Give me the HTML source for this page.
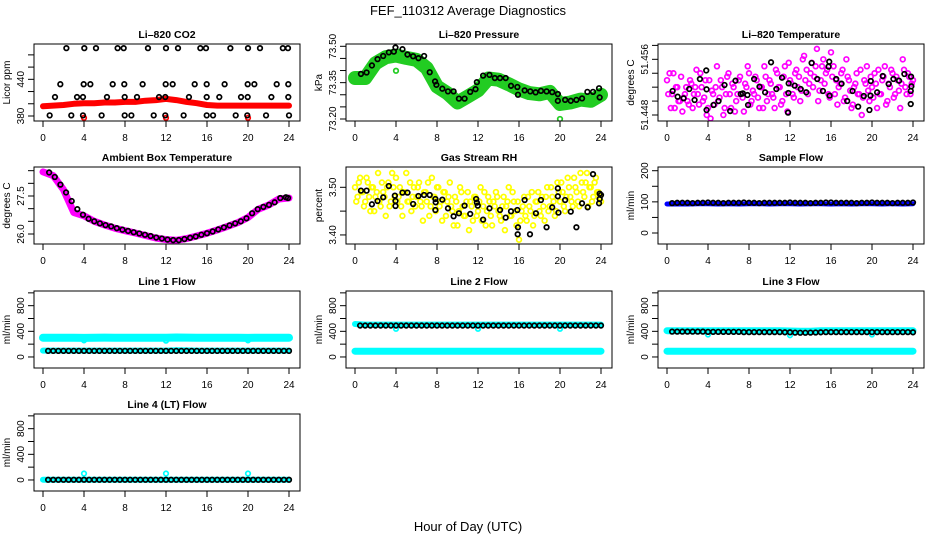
<!DOCTYPE html>
<html><head><meta charset="utf-8"><style>
html,body{margin:0;padding:0;background:#fff;}
svg{display:block;font-family:"Liberation Sans",Arial,sans-serif;}
</style></head><body>
<svg id="chart" width="936" height="540" viewBox="0 0 936 540" xmlns="http://www.w3.org/2000/svg">
<rect width="936" height="540" fill="#fff"/>
<text x="468" y="15" text-anchor="middle" font-size="13">FEF_110312  Average Diagnostics</text>
<text x="468" y="531" text-anchor="middle" font-size="13">Hour of Day (UTC)</text>
</svg>
<script>
// ---- data ----
const xTicks=[0,4,8,12,16,20,24];
const halfHours=[0.5,1,1.5,2,2.5,3,3.5,4,4.5,5,5.5,6,6.5,7,7.5,8,8.5,9,9.5,10,10.5,11,11.5,12,12.5,13,13.5,14,14.5,15,15.5,16,16.5,17,17.5,18,18.5,19,19.5,20,20.5,21,21.5,22,22.5,23,23.5,24];
const hourly=[0,1,2,3,4,5,6,7,8,9,10,11,12,13,14,15,16,17,18,19,20,21,22,23,24];
const dipHours=[4,12,20];

// CO2
const co2Top=[2.28,4.03,5.17,7.28,7.87,10.24,12.0,13.17,15.35,15.9,18.28,20.0,21.17,23.4,23.9];
const co2Mid=[1.69,3.97,4.62,6.8,7.93,9.72,11.97,12.65,14.8,15.97,17.72,19.97,20.62,22.8,23.93];
const co2Low=[1.17,3.32,3.9,6.24,7.97,9.17,11.32,11.93,14.24,15.97,17.2,19.32,19.97,22.28,23.93];
const co2Bot=[0.65,2.76,3.9,5.72,7.97,8.62,10.8,11.93,13.72,15.97,16.59,18.8,19.93,21.76,24.0];
const co2Levels=[491,432,411,381];
const co2Red=[396,397,398,400,401,401,402,402,403,403,405,406,408,406,403,401,398,397,397,397,397,397,397,397,397];
const co2RedOut=[377,377,377];

// Pressure
const presHours=[0.58,1.13,1.65,2.2,2.75,3.3,3.79,3.95,4.63,5.12,5.67,6.19,6.74,7.29,7.81,7.94,8.52,9.07,9.62,10.14,10.69,11.24,11.76,11.89,12.5,13.12,13.64,14.15,14.7,15.22,15.84,15.9,16.55,17.1,17.62,18.14,18.69,19.24,19.79,19.79,20.5,21.05,21.6,22.15,22.67,23.22,23.81,23.87];
const presBlack=[73.386,73.392,73.421,73.447,73.46,73.475,73.478,73.495,73.488,73.466,73.459,73.451,73.46,73.393,73.355,73.341,73.325,73.314,73.314,73.284,73.284,73.312,73.323,73.352,73.379,73.382,73.369,73.369,73.369,73.337,73.332,73.3,73.318,73.314,73.31,73.316,73.314,73.311,73.303,73.275,73.279,73.275,73.279,73.285,73.312,73.312,73.327,73.289];
const presGreen=[73.369,73.369,73.43,73.455,73.462,73.452,73.444,73.41,73.334,73.307,73.268,73.293,73.318,73.367,73.362,73.343,73.322,73.307,73.302,73.312,73.262,73.268,73.28,73.275,73.3];
const presGreenOutH=[4.0,20.0];
const presGreenOut=[73.399,73.2];

// Li-820 temperature
const tempStart=0, tempStep=0.25, tempStartB=0.125;
const tempMagA=[51.453,51.454,51.451,51.449,51.452,51.45,51.4485,51.451,51.45,51.453,51.449,51.452,51.451,51.454,51.45,51.453,51.449,51.4475,51.451,51.452,51.45,51.453,51.448,51.451,51.454,51.449,51.452,51.45,51.453,51.451,51.4485,51.452,51.454,51.45,51.451,51.453,51.449,51.452,51.455,51.45,51.453,51.451,51.449,51.454,51.452,51.45,51.455,51.4485,51.453,51.451,51.454,51.452,51.45,51.456,51.453,51.451,51.454,51.452,51.455,51.45,51.453,51.456,51.454,51.451,51.457,51.455,51.453,51.452,51.454,51.45,51.456,51.453,51.449,51.452,51.454,51.451,51.448,51.453,51.455,51.45,51.452,51.454,51.449,51.451,51.453,51.455,51.45,51.452,51.454,51.451,51.453,51.449,51.456,51.452,51.454,51.451,51.453];
const tempMagB=[51.451,51.449,51.454,51.452,51.45,51.4535,51.4505,51.452,51.4495,51.4525,51.451,51.4545,51.4495,51.452,51.4505,51.448,51.453,51.4515,51.4495,51.455,51.4505,51.452,51.449,51.4535,51.451,51.4525,51.4485,51.451,51.4535,51.4505,51.4525,51.455,51.4495,51.4515,51.4535,51.4505,51.452,51.449,51.4535,51.451,51.4525,51.4505,51.4545,51.452,51.4495,51.4535,51.451,51.4555,51.4525,51.4505,51.4545,51.4535,51.4515,51.4565,51.4545,51.4525,51.4555,51.4535,51.4575,51.4515,51.455,51.4525,51.4545,51.4505,51.4535,51.451,51.4495,51.4525,51.4545,51.4505,51.4535,51.4515,51.4495,51.4525,51.451,51.4545,51.4505,51.4525,51.4515,51.4535,51.4505,51.4525,51.4545,51.451,51.4535,51.4495,51.4525,51.4545,51.4505,51.4535,51.4515,51.4525,51.4545,51.451,51.4535,51.4525];
const tempHours=[0.55,1.04,1.62,2.17,2.69,3.21,3.83,3.86,3.86,4.54,5.03,5.61,6.16,6.68,7.2,7.4,7.85,7.91,8.5,9.02,9.57,10.15,10.67,11.22,11.81,11.84,11.87,12.46,13.04,13.59,14.11,14.66,15.21,15.76,15.83,15.86,16.51,17.03,17.58,18.1,18.65,19.2,19.75,19.85,19.88,20.5,21.05,21.63,22.09,22.64,23.16,23.78,23.81,23.84,23.78];
const tempBlack=[51.45145,51.45063,51.4504,51.45174,51.45016,51.45317,51.4544,51.45169,51.44872,51.44944,51.45001,51.45231,51.44857,51.45293,51.45102,51.45111,51.45087,51.44944,51.45317,51.45207,51.45126,51.45557,51.45174,51.45336,51.44834,51.45116,51.45255,51.45222,51.45174,51.45126,51.45547,51.45317,51.45145,51.45495,51.45566,51.45078,51.45317,51.4525,51.45001,51.45145,51.4492,51.45073,51.44872,51.45078,51.45289,51.45126,51.4536,51.45245,51.45317,51.45293,51.45389,51.45145,51.45351,51.45212,51.44958];

// Ambient box temperature
const ambHours=[0.6,1.15,1.7,2.25,2.8,3.35,3.9,4.45,5,5.55,6.1,6.65,7.2,7.75,8.3,8.85,9.4,9.95,10.5,11.05,11.6,12.15,12.7,13.25,13.8,14.35,14.9,15.45,16,16.55,17.1,17.65,18.2,18.75,19.3,19.85,20.4,20.95,21.5,22.05,22.6,23.15,23.7,23.9];
const ambBlack=[28.43,28.25,27.95,27.64,27.3,26.98,26.76,26.6,26.5,26.42,26.35,26.3,26.23,26.17,26.12,26.07,26.02,25.97,25.92,25.86,25.82,25.78,25.76,25.76,25.8,25.85,25.9,25.97,26.03,26.1,26.18,26.26,26.34,26.42,26.5,26.62,26.82,26.98,27.07,27.15,27.25,27.42,27.45,27.42];
const ambMagenta=[28.45,28.3,27.75,26.85,26.72,26.5,26.36,26.23,26.13,26.04,25.94,25.84,25.78,25.75,25.82,25.92,26.03,26.16,26.3,26.45,26.65,26.98,27.14,27.38,27.42];

// Gas stream RH
const rhStart=0, rhStep=0.25, rhStartB=0.125;
const rhYellowA=[3.50,3.48,3.52,3.49,3.47,3.51,3.45,3.50,3.48,3.53,3.46,3.49,3.44,3.51,3.47,3.50,3.52,3.48,3.46,3.49,3.53,3.47,3.45,3.50,3.48,3.51,3.46,3.49,3.47,3.44,3.52,3.48,3.50,3.46,3.43,3.49,3.47,3.51,3.45,3.48,3.42,3.50,3.46,3.44,3.49,3.47,3.43,3.48,3.45,3.50,3.46,3.42,3.48,3.44,3.47,3.49,3.45,3.43,3.48,3.46,3.50,3.44,3.47,3.42,3.39,3.45,3.48,3.43,3.46,3.49,3.44,3.47,3.45,3.48,3.43,3.50,3.46,3.48,3.44,3.51,3.47,3.49,3.45,3.52,3.48,3.46,3.50,3.47,3.53,3.49,3.51,3.46,3.50,3.48,3.52,3.49,3.47];
const rhYellowB=[3.47,3.51,3.49,3.46,3.52,3.48,3.50,3.45,3.49,3.47,3.51,3.48,3.50,3.46,3.53,3.48,3.47,3.50,3.44,3.49,3.47,3.51,3.48,3.46,3.50,3.47,3.43,3.49,3.51,3.46,3.48,3.45,3.50,3.47,3.49,3.44,3.48,3.46,3.42,3.47,3.45,3.49,3.44,3.47,3.41,3.46,3.48,3.44,3.47,3.43,3.49,3.45,3.47,3.42,3.46,3.48,3.44,3.46,3.41,3.47,3.44,3.49,3.45,3.47,3.43,3.46,3.44,3.48,3.45,3.42,3.47,3.49,3.44,3.46,3.48,3.45,3.50,3.47,3.45,3.49,3.51,3.46,3.48,3.50,3.47,3.52,3.49,3.46,3.51,3.48,3.53,3.50,3.47,3.51,3.49,3.48];
const rhHours=[0.58,1.13,1.65,2.2,2.75,3.3,3.89,3.95,3.95,4.63,5.12,5.67,6.19,6.74,7.29,7.84,7.87,7.84,8.52,9.07,9.62,10.14,10.69,11.24,11.82,11.89,11.98,12.5,13.12,14.15,14.7,15.22,15.84,15.9,15.87,16.55,17.07,17.65,18.14,18.69,19.24,19.79,19.79,19.85,20.5,21.05,21.6,22.15,22.7,23.22,23.81,23.87,23.87,24.0];
const rhBlack=[3.493,3.493,3.4643,3.4713,3.479,3.5028,3.4825,3.4713,3.4608,3.4888,3.4888,3.465,3.4818,3.4839,3.4839,3.4755,3.4685,3.4524,3.4741,3.4559,3.4392,3.4455,3.4615,3.4441,3.4755,3.4678,3.4615,3.4322,3.4559,3.4524,3.4364,3.4497,3.4524,3.4161,3.4014,3.4734,3.4014,3.4455,3.4734,3.4161,3.458,3.4979,3.4811,3.4469,3.4734,3.449,3.4161,3.4664,3.458,3.5276,3.4664,3.4867,3.4755,3.4839];

// Sample flow
const sampleBlue=[93,93,93,94,94,93,94,93,94,94,93,94,94,93,94,94,93,94,93,94,94,93,94,93,94];
const sampleBlack=[96,97,97,97,96,97,97,98,97,97,96,97,97,97,98,97,97,96,97,97,97,97,97,98,97,97,97,96,97,97,98,98,97,97,97,97,96,97,97,98,97,97,97,96,97,97,97,98];

// Line flows
const line1CyanHi=[300,300,300,300,298,300,302,300,300,300,300,300,300,304,302,300,300,300,300,300,298,300,300,300,300];
const line1CyanLo=[100,100,100,100,100,100,100,100,100,100,100,100,100,104,102,100,100,100,100,100,100,100,100,100,100];
const line1Black=[95,95,95,95,95,95,95,95,95,95,95,95,95,95,95,95,95,95,95,95,95,95,95,95,95,95,95,95,95,95,95,95,95,95,95,95,95,95,95,95,95,95,95,95,95,95,95,95];
const line1Dip=[260,255,260];
const line2CyanHi=[515,505,505,505,505,505,505,505,505,505,505,505,505,505,505,505,505,505,505,505,505,505,505,505,505];
const line2CyanLo=[90,88,88,88,88,88,88,88,88,88,88,88,88,88,88,88,88,88,88,88,88,88,88,88,90];
const line2Black=[490,490,490,490,490,490,490,490,490,490,490,490,490,490,490,490,490,490,490,490,490,490,490,490,490,490,490,490,490,490,490,490,490,490,490,490,490,490,490,490,490,490,490,490,490,490,490,490];
const line2Dip=[440,440,440];
const line3CyanHi=[410,410,410,410,410,410,410,410,410,410,410,410,405,400,400,410,410,410,410,410,410,410,410,410,410];
const line3CyanLo=[90,90,90,90,90,90,90,90,90,90,90,90,90,90,90,90,90,90,90,90,90,90,90,90,90];
const line3Black=[395,395,395,395,395,395,395,392,392,392,392,392,392,392,388,388,388,388,388,388,388,388,385,385,380,378,378,380,382,385,388,388,388,388,388,388,388,388,388,388,388,388,388,388,388,388,388,385];
const line3Dip=[350,340,350];
const line4Cyan=[5,2,2,2,2,2,2,2,2,2,2,2,2,2,2,2,2,2,2,2,2,2,2,2,2];
const line4Black=[3,3,3,3,3,3,3,3,3,3,3,3,3,3,3,3,3,3,3,3,3,3,3,3,3,3,3,3,3,3,3,3,3,3,3,3,3,3,3,3,3,3,3,3,3,3,3,3];
const line4Dip=[100,100,100];

// ---- drawing ----
const NS='http://www.w3.org/2000/svg';
const svg=document.getElementById('chart');
const COLS=[34,346,658], ROWS=[44,167,291,414], BW=266, BH=77;
function el(tag,attrs,parent){const e=document.createElementNS(NS,tag);for(const k in attrs)e.setAttribute(k,attrs[k]);(parent||svg).appendChild(e);return e;}

function makePanel(p){
  const g=el('g',{});
  
  
  const left=COLS[p.col], top=ROWS[p.row], bottom=top+BH;
  p.g=g;
  p.x=h=>left+9+h*(246/24);
  p.y=v=>top+(p.ymax-v)/(p.ymax-p.ymin)*BH;
  p.left=left;p.top=top;p.bottom=bottom;
  const t=el('text',{x:left+BW/2,y:top-6,'text-anchor':'middle','font-size':10.5,'font-weight':'bold'},g);
  t.textContent=p.title;
  
  
  const yt=el('text',{transform:`translate(${left-24},${top+BH/2}) rotate(-90)`,'text-anchor':'middle','font-size':10},g);
  yt.textContent=p.ylab;
  
  
  p.yticks.forEach(v=>{
    const yy=p.y(v);
    const tk=el('line',{x1:left-6,x2:left,y1:yy,y2:yy,stroke:'#000','stroke-width':1},g);
    
    
  });
  p.ylabels.forEach(v=>{
    const yy=p.y(v);
    const lb=el('text',{transform:`translate(${left-10},${yy}) rotate(-90)`,'text-anchor':'middle','font-size':10},g);
    lb.textContent=p.fmt?p.fmt(v):String(v);
    
    
  });
  xTicks.forEach(h=>{
    const xx=p.x(h);
    const tk=el('line',{x1:xx,x2:xx,y1:bottom,y2:bottom+6,stroke:'#000','stroke-width':1},g);
    
    
    const lb=el('text',{x:xx,y:bottom+20,'text-anchor':'middle','font-size':10},g);
    lb.textContent=String(h);
    
    
  });
  const cp=el('clipPath',{id:'clip'+p.name},g);
  el('rect',{x:left,y:top,width:BW,height:BH},cp);
  p.plot=el('g',{'clip-path':`url(#clip${p.name})`},g);
  
  
  return p;
}
function finishPanel(p){
  const r=el('rect',{x:p.left,y:p.top,width:BW,height:BH,fill:'none',stroke:'#000','stroke-width':1},p.g);
  
  
}
function points(p,hours,vals,color,name,rad){
  vals.forEach((v,i)=>{
    const c=el('circle',{cx:p.x(hours[i]),cy:p.y(v),r:rad||2.3,fill:'none',stroke:color,'stroke-width':1.7},p.plot);
    
    
  });
}
function stepPoints(p,start,step,vals,color,name){
  points(p,vals.map((v,i)=>start+i*step),vals,color,name,2.4);
}
function band(p,hours,vals,color,width,name){
  const d=vals.map((v,i)=>(i?'L':'M')+p.x(hours[i]).toFixed(1)+','+p.y(v).toFixed(1)).join('');
  const b=el('path',{d:d,fill:'none',stroke:color,'stroke-width':width,'stroke-linejoin':'round','stroke-linecap':'round'},p.plot);
  
  
}
const fmt2=v=>v.toFixed(2), fmt1=v=>v.toFixed(1), fmt3=v=>v.toFixed(3);

// CO2
let p=makePanel({name:'co2-panel',title:'Li\u2013820 CO2',ylab:'Licor ppm',col:0,row:0,ymin:371.8,ymax:497.8,yticks:[380,400,420,440,460,480],ylabels:[380,440]});
band(p,hourly,co2Red,'#ff0000',6,'co2-red-band');
points(p,dipHours,co2RedOut,'#ff0000','co2-red-outlier');
[co2Top,co2Mid,co2Low,co2Bot].forEach((hs,k)=>points(p,hs,hs.map(()=>co2Levels[k]),'#000','co2-point'));
finishPanel(p);

// Pressure
p=makePanel({name:'pressure-panel',title:'Li\u2013820 Pressure',ylab:'kPa',col:1,row:0,ymin:73.1917,ymax:73.5095,yticks:[73.20,73.25,73.30,73.35,73.40,73.45,73.50],ylabels:[73.20,73.35,73.50],fmt:fmt2});
band(p,hourly,presGreen,'#22cc22',14,'pressure-green-band');
points(p,presGreenOutH,presGreenOut,'#22cc22','pressure-green-outlier');
points(p,presHours,presBlack,'#000','pressure-point');
finishPanel(p);

// Li-820 temp
p=makePanel({name:'li820-temperature-panel',title:'Li\u2013820 Temperature',ylab:'degrees C',col:2,row:0,ymin:51.44714,ymax:51.4582,yticks:[51.448,51.450,51.452,51.454,51.456,51.458],ylabels:[51.448,51.456],fmt:fmt3});
stepPoints(p,tempStart,tempStep,tempMagA,'#ff00ff','temp-magenta-point');
stepPoints(p,tempStartB,tempStep,tempMagB,'#ff00ff','temp-magenta-point');
points(p,tempHours,tempBlack,'#000','temp-point');
finishPanel(p);

// Ambient
p=makePanel({name:'ambient-temperature-panel',title:'Ambient Box Temperature',ylab:'degrees C',col:0,row:1,ymin:25.605,ymax:28.645,yticks:[26.0,26.5,27.0,27.5,28.0,28.5],ylabels:[26.0,27.5],fmt:fmt1});
band(p,hourly,ambMagenta,'#ff00ff',7,'ambient-magenta-band');
points(p,ambHours,ambBlack,'#000','ambient-point');
finishPanel(p);

// RH
p=makePanel({name:'rh-panel',title:'Gas Stream RH',ylab:'percent',col:1,row:1,ymin:3.381,ymax:3.5426,yticks:[3.40,3.45,3.50],ylabels:[3.40,3.50],fmt:fmt2});
stepPoints(p,rhStart,rhStep,rhYellowA,'#ffff00','rh-yellow-point');
stepPoints(p,rhStartB,rhStep,rhYellowB,'#ffff00','rh-yellow-point');
points(p,rhHours,rhBlack,'#000','rh-point');
finishPanel(p);

// Sample flow
p=makePanel({name:'sample-flow-panel',title:'Sample Flow',ylab:'ml/min',col:2,row:1,ymin:-35.3,ymax:211.9,yticks:[0,50,100,150,200],ylabels:[0,100,200]});
band(p,hourly,sampleBlue,'#0000ff',5,'sample-blue-band');
points(p,halfHours,sampleBlack,'#000','sample-point');
finishPanel(p);

// Line flows
const flowTicks=[0,200,400,600,800,1000], flowLabels=[0,400,800];
p=makePanel({name:'line1-flow-panel',title:'Line 1 Flow',ylab:'ml/min',col:0,row:2,ymin:-172,ymax:1029,yticks:flowTicks,ylabels:flowLabels});
band(p,hourly,line1CyanHi,'#00ffff',8,'line1-cyan-band');
band(p,hourly,line1CyanLo,'#00ffff',6,'line1-cyan-low-band');
points(p,dipHours,line1Dip,'#00ffff','line1-cyan-dip');
points(p,halfHours,line1Black,'#000','line1-point');
finishPanel(p);

p=makePanel({name:'line2-flow-panel',title:'Line 2 Flow',ylab:'ml/min',col:1,row:2,ymin:-172,ymax:1029,yticks:flowTicks,ylabels:flowLabels});
band(p,hourly,line2CyanHi,'#00ffff',6,'line2-cyan-band');
band(p,hourly,line2CyanLo,'#00ffff',7,'line2-cyan-low-band');
points(p,dipHours,line2Dip,'#00ffff','line2-cyan-dip');
points(p,halfHours,line2Black,'#000','line2-point');
finishPanel(p);

p=makePanel({name:'line3-flow-panel',title:'Line 3 Flow',ylab:'ml/min',col:2,row:2,ymin:-172,ymax:1029,yticks:flowTicks,ylabels:flowLabels});
band(p,hourly,line3CyanHi,'#00ffff',7,'line3-cyan-band');
band(p,hourly,line3CyanLo,'#00ffff',7,'line3-cyan-low-band');
points(p,dipHours,line3Dip,'#00ffff','line3-cyan-dip');
points(p,halfHours,line3Black,'#000','line3-point');
finishPanel(p);

p=makePanel({name:'line4-flow-panel',title:'Line 4 (LT) Flow',ylab:'ml/min',col:0,row:3,ymin:-172,ymax:1029,yticks:flowTicks,ylabels:flowLabels});
band(p,hourly,line4Cyan,'#00ffff',6,'line4-cyan-band');
points(p,dipHours,line4Dip,'#00ffff','line4-cyan-dip');
points(p,halfHours,line4Black,'#000','line4-point');
finishPanel(p);
</script>
</body></html>
